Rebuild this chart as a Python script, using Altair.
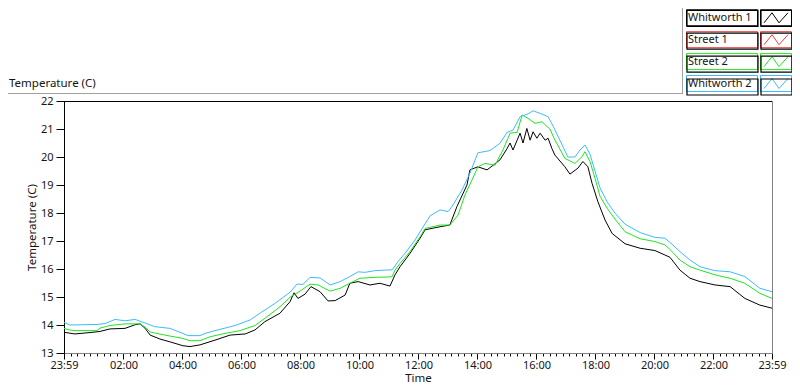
import json
import pandas as pd
import altair as alt

SERIES = ["Whitworth 1", "Street 1", "Street 2", "Whitworth 2"]
COLORS = ["#000000", "#f03c3c", "#1ee61e", "#3cbcff"]

# hours after 23:59 and temperature (C)
w1_hours = [0, 0.37, 0.88, 1.22, 1.56, 2.07, 2.41, 2.58, 2.75, 2.92, 3.25, 3.59, 4.03, 4.27, 4.61, 5.12,
            5.63, 6.14, 6.47, 6.81, 7.32, 7.66, 7.80, 7.93, 8.17, 8.37, 8.68, 8.95, 9.19, 9.53, 9.69,
            9.97, 10.37, 10.71, 11.05, 11.22, 11.39, 11.73, 12.07, 12.24, 12.75, 13.08, 13.32, 13.66,
            13.76, 14.03, 14.34, 14.54, 14.78, 15.02, 15.12, 15.22, 15.36, 15.46, 15.56, 15.69, 15.80,
            15.90, 16.03, 16.14, 16.31, 16.41, 16.54, 16.64, 16.98, 17.15, 17.42, 17.59, 17.76, 17.90,
            18.10, 18.34, 18.58, 19.02, 19.53, 20.03, 20.37, 20.54, 20.88, 21.22, 21.56, 22.07, 22.58,
            23.08, 23.59, 24.0]
w1_temp = [13.74, 13.68, 13.73, 13.77, 13.86, 13.88, 14.01, 14.04, 13.88, 13.64, 13.50, 13.40, 13.26,
           13.23, 13.29, 13.46, 13.64, 13.68, 13.82, 14.12, 14.42, 14.83, 15.15, 14.95, 15.10, 15.37,
           15.19, 14.86, 14.87, 15.07, 15.49, 15.55, 15.43, 15.49, 15.39, 15.79, 16.08, 16.56, 17.10,
           17.40, 17.51, 17.57, 18.23, 19.00, 19.54, 19.65, 19.54, 19.70, 19.90, 20.30, 20.50, 20.25,
           20.60, 20.85, 20.50, 21.02, 20.60, 20.90, 20.67, 20.85, 20.60, 20.67, 20.30, 20.07, 19.65,
           19.39, 19.60, 19.84, 19.65, 19.06, 18.40, 17.75, 17.27, 16.90, 16.74, 16.66, 16.50, 16.42,
           15.96, 15.67, 15.55, 15.43, 15.37, 14.95, 14.71, 14.60]

s2_hours = [0, 0.20, 0.37, 1.12, 1.22, 1.56, 2.07, 2.58, 2.75, 2.92, 3.42, 4.03, 4.27, 4.61, 4.95, 5.46,
            5.97, 6.47, 6.81, 7.32, 7.66, 8.00, 8.34, 8.61, 9.02, 9.36, 9.69, 10.03, 10.54, 11.12, 11.22,
            11.39, 11.73, 12.07, 12.24, 12.75, 13.08, 13.36, 13.59, 13.83, 14.03, 14.27, 14.61, 14.88,
            15.12, 15.36, 15.53, 15.73, 15.97, 16.20, 16.47, 16.64, 16.98, 17.32, 17.56, 17.66, 17.83,
            18.00, 18.17, 18.41, 18.68, 19.02, 19.53, 20.03, 20.37, 20.54, 20.88, 21.22, 21.56, 22.07,
            22.58, 23.08, 23.59, 24.0]
s2_temp = [13.88, 13.82, 13.80, 13.80, 13.89, 13.98, 14.04, 14.04, 13.92, 13.75, 13.64, 13.52, 13.44,
           13.44, 13.58, 13.70, 13.80, 13.98, 14.24, 14.65, 14.99, 15.21, 15.46, 15.43, 15.21, 15.31,
           15.49, 15.67, 15.70, 15.72, 15.96, 16.20, 16.62, 17.15, 17.45, 17.57, 17.57, 17.93, 18.64,
           19.18, 19.65, 19.77, 19.71, 20.25, 20.85, 20.88, 21.50, 21.38, 21.20, 21.26, 21.00, 20.61,
           19.95, 19.77, 20.01, 20.19, 19.84, 19.24, 18.60, 18.17, 17.78, 17.33, 17.08, 16.98, 16.86,
           16.70, 16.32, 16.08, 15.96, 15.79, 15.67, 15.49, 15.13, 14.95]

w2_hours = [0, 0.20, 1.12, 1.39, 1.73, 2.07, 2.41, 2.75, 3.08, 3.59, 4.03, 4.20, 4.61, 4.78, 5.12, 5.80,
            6.31, 6.64, 7.15, 7.66, 7.90, 8.10, 8.34, 8.68, 9.02, 9.36, 9.69, 9.97, 10.20, 10.54, 10.88,
            11.12, 11.32, 11.56, 11.90, 12.07, 12.41, 12.75, 13.02, 13.15, 13.25, 13.49, 13.76, 14.03,
            14.44, 14.78, 15.02, 15.22, 15.46, 15.73, 15.90, 16.14, 16.41, 16.58, 16.81, 17.08, 17.32,
            17.49, 17.66, 17.83, 18.00, 18.17, 18.41, 18.68, 19.02, 19.53, 20.03, 20.37, 20.54, 20.88,
            21.22, 21.56, 22.07, 22.58, 23.08, 23.59, 24.0]
w2_temp = [14.09, 14.00, 14.02, 14.05, 14.20, 14.15, 14.20, 14.07, 13.94, 13.88, 13.70, 13.62, 13.62,
           13.70, 13.80, 13.98, 14.18, 14.42, 14.77, 15.17, 15.46, 15.45, 15.70, 15.68, 15.43, 15.55,
           15.73, 15.90, 15.88, 15.94, 15.96, 15.97, 16.26, 16.56, 17.04, 17.33, 17.90, 18.11, 18.05,
           18.23, 18.40, 18.82, 19.42, 20.15, 20.23, 20.49, 20.88, 20.96, 21.44, 21.54, 21.65, 21.56,
           21.44, 21.10, 20.60, 20.00, 20.00, 20.25, 20.43, 20.10, 19.50, 18.90, 18.40, 17.99, 17.60,
           17.30, 17.13, 17.10, 16.95, 16.62, 16.32, 16.08, 15.94, 15.90, 15.73, 15.31, 15.19]

X_TICK_HOURS = [0, 2.0167, 4.0167, 6.0167, 8.0167, 10.0167, 12.0167, 14.0167, 16.0167, 18.0167,
                20.0167, 22.0167, 24]
X_TICK_LABELS = ["23:59", "02:00", "04:00", "06:00", "08:00", "10:00", "12:00", "14:00", "16:00",
                 "18:00", "20:00", "22:00", "23:59"]
Y_TICKS = [13, 14, 15, 16, 17, 18, 19, 20, 21, 22]
CHART_TITLE = "Temperature (C)"

minor = []
for a, b in zip(X_TICK_HOURS[:-1], X_TICK_HOURS[1:]):
    for k in range(1, 9):
        minor.append(round(a + (b - a) * k / 9, 4))
all_ticks = sorted(X_TICK_HOURS + minor)

frames = []
for name, hh, tt in [("Whitworth 1", w1_hours, w1_temp), ("Street 2", s2_hours, s2_temp),
                     ("Whitworth 2", w2_hours, w2_temp)]:
    frames.append(pd.DataFrame({"hours": hh, "temp": tt, "series": name}))
df = pd.concat(frames, ignore_index=True)
df["box"] = df["series"]

W, H = 708, 252
FONT = "Noto Sans"
TXT = "#141414"

xs = json.dumps(X_TICK_HOURS)
labs = json.dumps(X_TICK_LABELS)
label_expr = f"indexof({xs}, datum.value) >= 0 ? {labs}[indexof({xs}, datum.value)] : ''"
major_test = f"indexof({xs}, datum.value) >= 0"

xaxis = alt.Axis(values=all_ticks, labelExpr=label_expr, title="Time", labelOverlap=False,
                 tickSize={"condition": {"test": major_test, "value": 6}, "value": 3},
                 tickColor="black", domainColor="#808080", labelPadding=0, grid=False,
                 labelFontSize=11, labelColor=TXT, labelFont=FONT, labelFlush=False,
                 titleFontSize=11.5, titleFontWeight="normal", titleFont=FONT, titleColor=TXT,
                 titleX=W / 2, titleY=28.5, titleBaseline="alphabetic", titleAlign="center")
yaxis = alt.Axis(values=Y_TICKS, title="Temperature (C)", tickSize=8, tickColor="black",
                 labelOverlap=False, domainColor="black", labelPadding=3, grid=False,
                 labelFontSize=11, labelColor=TXT, labelFont=FONT, titleFontSize=11.5,
                 titleFontWeight="normal", titleFont=FONT, titleColor=TXT, titleX=-32,
                 titleY=H / 2, titleBaseline="middle", titleAngle=270, titleAlign="center")

# legend symbols: label box, symbol box, zig-zag (unit = 10 px with size 400)
BOXES = "M-8.95,-0.8H-1.85V0.8H-8.95Z M-1.55,-0.8H1.55V0.8H-1.55Z"
ZIG = BOXES + " M-1.2,0.5L-0.4,-0.5L0.3,0.5L1.2,-0.5"
LX, LY = 605, -93.7
ROWPAD = 0.9

leg1 = alt.Legend(title=None, orient="none", legendX=LX, legendY=LY, direction="vertical",
                  symbolType=ZIG, symbolSize=400, symbolStrokeWidth=1, symbolOffset=96.5,
                  symbolFillColor="transparent", labelOffset={"expr": "-98.5"}, labelAlign="left",
                  labelFontSize=11, labelFont=FONT, labelColor=TXT, rowPadding=ROWPAD,
                  padding=0, offset=0)
leg2 = alt.Legend(title=None, orient="none", legendX=LX, legendY=LY, direction="vertical",
                  symbolType=BOXES, symbolSize=400, symbolStrokeWidth=1.2, symbolOffset=96.5,
                  symbolStrokeColor="black", symbolFillColor="transparent", symbolOpacity=1,
                  labelOffset={"expr": "-98.5"}, labelAlign="left", labelOpacity=0,
                  labelExpr="''", labelFontSize=11, labelFont=FONT, rowPadding=ROWPAD,
                  padding=0, offset=0)

xenc = alt.X("hours:Q", scale=alt.Scale(domain=[0, 24], nice=False, zero=False), axis=xaxis)
yenc = alt.Y("temp:Q", scale=alt.Scale(domain=[13, 22], nice=False, zero=False), axis=yaxis)

lines = alt.Chart(df).mark_line(strokeWidth=1, clip=True).encode(
    x=xenc, y=yenc,
    color=alt.Color("series:N", scale=alt.Scale(domain=SERIES, range=COLORS), legend=leg1),
)
ghost = alt.Chart(df).mark_point().encode(
    x=xenc, y=yenc,
    shape=alt.Shape("box:N", scale=alt.Scale(domain=SERIES[::-1], range=[BOXES] * 4), legend=leg2),
).transform_filter("datum.hours < -1")

one = pd.DataFrame({"k": [0]})
top_rule = alt.Chart(one).mark_rule(color="black", strokeWidth=1).encode(
    x=alt.value(0), x2=alt.value(W), y=alt.value(0.5))
right_rule = alt.Chart(one).mark_rule(color="#808080", strokeWidth=1).encode(
    x=alt.value(W + 0.5), y=alt.value(0), y2=alt.value(H))
frame_h = alt.Chart(one).mark_rule(color="#a0a0a0", strokeWidth=1).encode(
    x=alt.value(-56), x2=alt.value(619), y=alt.value(-7.5))
frame_v = alt.Chart(one).mark_rule(color="#a0a0a0", strokeWidth=1).encode(
    x=alt.value(618.5), y=alt.value(-93), y2=alt.value(-7.5))
title_txt = alt.Chart(one).mark_text(align="left", baseline="alphabetic", fontSize=11.5,
                                     font=FONT, color=TXT).encode(
    x=alt.value(-55), y=alt.value(-14), text=alt.value(CHART_TITLE))

chart = alt.layer(lines, ghost, top_rule, right_rule, frame_h, frame_v, title_txt).properties(
    width=W, height=H,
    autosize=alt.AutoSizeParams(type="none"),
    padding={"left": 56, "top": 93, "right": 20, "bottom": 31},
).configure_view(strokeWidth=0).configure(font=FONT, background="white")

chart.save("out.html", embed_options={"renderer": "svg", "actions": False})
